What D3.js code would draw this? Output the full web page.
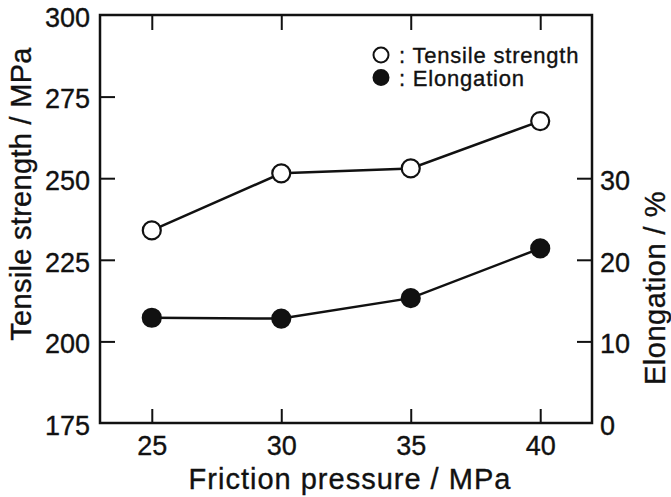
<!DOCTYPE html>
<html lang="en">

<head>
  <meta charset="UTF-8">
  <title>Tensile strength and elongation vs friction pressure</title>
  <script src="https://cdn.jsdelivr.net/npm/d3@7.9.0/dist/d3.min.js"></script>
  <style>
    html,
    body {
      margin: 0;
      padding: 0;
      background: #fff;
    }

    svg text {
      font-family: "Liberation Sans", Arial, Helvetica, sans-serif;
      fill: #111;
      stroke: #111;
      stroke-width: 0.35px;
    }
  </style>
</head>

<body>
  <svg id="chart" width="671" height="497"></svg>

  <script>
    // --- Data ---
    const pressures = [25, 30, 35, 40];
    const tensileStrength = [234, 251.5, 253, 267.5];
    const elongation = [12.9, 12.8, 15.3, 21.4];

    const xTicks = [25, 30, 35, 40];
    const leftTicks = [175, 200, 225, 250, 275, 300];
    const rightTicks = [0, 10, 20, 30];

    const legendLabels = [": Tensile strength", ": Elongation"];

    // --- Layout ---
    const svg = d3.select("#chart");
    const plot = { left: 100, top: 15, right: 592, bottom: 423 };

    const x = d3.scaleLinear().domain([23, 42]).range([plot.left, plot.right]);
    const yLeft = d3.scaleLinear().domain([175, 300]).range([plot.bottom, plot.top]);
    const yRight = d3.scaleLinear().domain([0, 50]).range([plot.bottom, plot.top]);

    const tickFont = "27px";

    // frame
    svg.append("rect")
      .attr("x", plot.left)
      .attr("y", plot.top)
      .attr("width", plot.right - plot.left)
      .attr("height", plot.bottom - plot.top)
      .attr("fill", "none")
      .attr("stroke", "#111")
      .attr("stroke-width", 2.5);

    // axes (ticks pointing inward)
    const styleAxis = (g) => {
      g.select(".domain").remove();
      g.selectAll(".tick line").attr("stroke", "#111").attr("stroke-width", 2);
      g.selectAll(".tick text").style("font-size", tickFont).attr("fill", "#111");
    };

    svg.append("g")
      .attr("transform", `translate(0,${plot.bottom})`)
      .call(d3.axisBottom(x).tickValues(xTicks).tickSizeInner(-14).tickSizeOuter(0).tickPadding(11))
      .call(styleAxis)
      .call(g => g.selectAll(".tick text").attr("y", 32).attr("dy", 0));

    svg.append("g")
      .attr("transform", `translate(0,${plot.top})`)
      .call(d3.axisTop(x).tickValues(xTicks).tickSizeInner(-15).tickSizeOuter(0).tickFormat(""))
      .call(styleAxis);

    svg.append("g")
      .attr("transform", `translate(${plot.left},0)`)
      .call(d3.axisLeft(yLeft).tickValues(leftTicks).tickSizeInner(-15).tickSizeOuter(0).tickPadding(0))
      .call(styleAxis)
      .call(g => g.selectAll(".tick text").attr("x", -10).attr("dy", "0.42em"))
      .call(g => g.selectAll(".tick line").filter(d => d === 175 || d === 300).remove());

    svg.append("g")
      .attr("transform", `translate(${plot.right},0)`)
      .call(d3.axisRight(yRight).tickValues(rightTicks).tickSizeInner(-15).tickSizeOuter(0).tickPadding(0))
      .call(styleAxis)
      .call(g => g.selectAll(".tick text").attr("x", 8).attr("dy", "0.42em"))
      .call(g => g.selectAll(".tick line").filter(d => d === 0).remove());

    // axis titles
    svg.append("text")
      .attr("x", (plot.left + plot.right) / 2 + 4)
      .attr("y", 489)
      .attr("text-anchor", "middle")
      .style("font-size", "29px")
      .style("letter-spacing", "1px")
      .text("Friction pressure / MPa");

    svg.append("text")
      .attr("transform", `translate(31,194) rotate(-90)`)
      .attr("text-anchor", "middle")
      .style("font-size", "29px")
      .style("letter-spacing", "0.3px")
      .text("Tensile strength / MPa");

    svg.append("text")
      .attr("transform", `translate(665,288) rotate(-90)`)
      .attr("text-anchor", "middle")
      .style("font-size", "29px")
      .style("letter-spacing", "0.5px")
      .text("Elongation / %");

    // series
    const line = (yScale) => d3.line().x((d, i) => x(pressures[i])).y(d => yScale(d));

    const drawSeries = (values, yScale, fill) => {
      svg.append("path")
        .datum(values)
        .attr("d", line(yScale))
        .attr("fill", "none")
        .attr("stroke", "#111")
        .attr("stroke-width", 2.5);
      svg.append("g")
        .selectAll("circle")
        .data(values)
        .join("circle")
        .attr("cx", (d, i) => x(pressures[i]))
        .attr("cy", d => yScale(d))
        .attr("r", 9)
        .attr("fill", fill)
        .attr("stroke", "#111")
        .attr("stroke-width", 2.2);
    };

    drawSeries(tensileStrength, yLeft, "#fff");
    drawSeries(elongation, yRight, "#111");

    // legend
    const legend = svg.append("g").attr("transform", "translate(381,55)");
    legendLabels.forEach((label, i) => {
      legend.append("circle")
        .attr("cx", 0)
        .attr("cy", i * 22.5)
        .attr("r", 7.5)
        .attr("fill", i === 0 ? "#fff" : "#111")
        .attr("stroke", "#111")
        .attr("stroke-width", 2);
      legend.append("text")
        .attr("x", 18)
        .attr("y", i * 22.5 + 8)
        .style("font-size", "22px")
        .style("letter-spacing", "0.8px")
        .text(label);
    });
  </script>
</body>

</html>
